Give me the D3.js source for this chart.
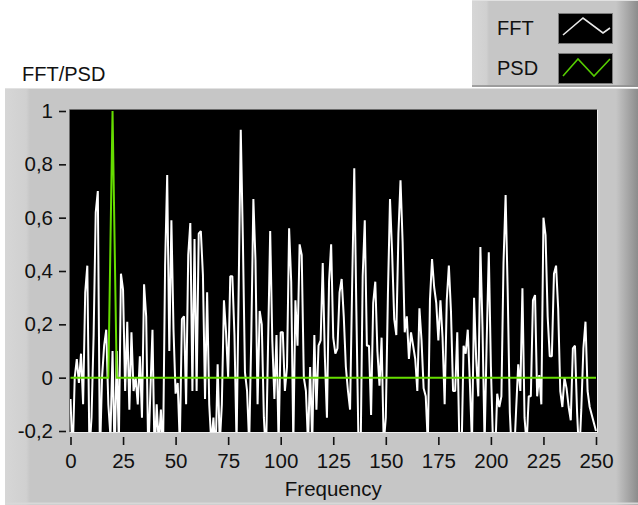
<!DOCTYPE html>
<html>
<head>
<meta charset="utf-8">
<script src="https://cdn.jsdelivr.net/npm/d3@7/dist/d3.min.js"></script>
<style>
  body { margin: 0; background: #ffffff; }
  svg { display: block; }
  text { font-family: "Liberation Sans", Arial, sans-serif; fill: #111; }
</style>
</head>
<body>
<svg id="chart" width="638" height="505"></svg>
<script>
// FFT magnitude, one value per frequency bin (0 .. 250)
const fftValues = [
  -0.08, -0.3, 0.0, 0.07, -0.02, 0.09, -0.1, 0.32, 0.42, -0.28,
  -0.15, 0.16, 0.62, 0.70, -0.3, 0.0, 0.12, 0.18, -0.1, -0.22,
  0.1, -0.3, 0.1, -0.25, 0.39, 0.33, -0.05, 0.21, -0.12, 0.17,
  -0.05, 0.0, -0.1, 0.08, -0.15, 0.35, 0.23, -0.3, -0.05, 0.18,
  -0.3, -0.1, -0.25, -0.12, -0.3, 0.42, 0.76, 0.1, 0.59, 0.18,
  -0.06, -0.02, -0.25, 0.22, 0.23, -0.1, 0.46, 0.58, -0.05, 0.52,
  -0.05, 0.54, 0.55, 0.385, -0.08, 0.32, -0.1, -0.25, -0.15, -0.3,
  0.05, -0.25, -0.1, 0.29, 0.17, 0.0, 0.38, 0.38, 0.16, -0.25,
  0.33, 0.93, 0.52, 0.02, -0.05, -0.25, 0.15, 0.67, 0.44, -0.1,
  0.25, 0.2, -0.15, -0.3, 0.13, 0.55, 0.14, -0.08, 0.16, -0.25,
  0.17, 0.17, -0.05, 0.04, 0.56, 0.36, -0.25, 0.29, 0.12, 0.5,
  0.46, 0.0, -0.05, -0.25, 0.04, -0.25, 0.16, -0.12, 0.12, 0.14,
  0.43, 0.08, -0.15, 0.36, 0.5, 0.15, 0.09, 0.11, 0.32, 0.37,
  0.23, 0.04, -0.05, -0.12, 0.35, 0.785, 0.25, -0.25, -0.3, 0.38,
  0.59, 0.12, 0.12, -0.14, 0.28, 0.36, 0.1, -0.03, 0.15, -0.25,
  -0.15, 0.31, 0.67, 0.47, 0.22, 0.16, 0.54, 0.74, 0.51, 0.17,
  0.23, 0.07, 0.17, 0.12, 0.07, -0.05, 0.26, 0.14, -0.04, -0.07,
  -0.25, 0.29, 0.445, 0.34, 0.28, 0.14, 0.29, 0.15, -0.1, 0.29,
  0.42, 0.25, -0.05, -0.05, 0.17, -0.25, -0.3, 0.12, 0.09, 0.18,
  -0.02, -0.25, 0.3, 0.07, -0.07, 0.49, 0.19, -0.25, 0.14, 0.47,
  0.04, -0.25, -0.3, -0.06, -0.11, -0.07, 0.43, 0.685, 0.32, -0.13,
  -0.3, -0.3, -0.12, 0.05, -0.05, 0.335, -0.15, -0.25, -0.07, -0.07,
  0.29, 0.31, -0.07, 0.01, -0.1, 0.6, 0.535, 0.23, 0.08, 0.08,
  0.39, 0.42, 0.26, -0.05, -0.11, 0.0, -0.04, -0.11, -0.16, 0.11,
  0.12, -0.13, -0.3, -0.12, 0.11, 0.21, -0.05, -0.11, -0.14, -0.17,
  -0.2
];

// Power spectral density: zero everywhere except the peak around bin 20
const psdPeakBins   = [19, 20, 21];
const psdPeakValues = [0.5, 1, 0.5];
const psdValues = fftValues.map(() => 0);
psdPeakBins.forEach((b, k) => { psdValues[b] = psdPeakValues[k]; });

const xTicks = [0, 25, 50, 75, 100, 125, 150, 175, 200, 225, 250];
const yTicks = [-0.2, 0, 0.2, 0.4, 0.6, 0.8, 1];
const seriesNames = ["FFT", "PSD"];
const seriesColors = ["#ffffff", "#66dd00"];

const svg = d3.select("#chart");
const W = 638, H = 505;

// ---- panel chrome ----
const defs = svg.append("defs");
const shade = defs.append("linearGradient").attr("id", "rightShade")
  .attr("x1", 0).attr("x2", 1).attr("y1", 0).attr("y2", 0);
shade.append("stop").attr("offset", 0).attr("stop-color", "#c6c6c6");
shade.append("stop").attr("offset", 1).attr("stop-color", "#8c8c8c");
const leftLight = defs.append("linearGradient").attr("id", "leftLight")
  .attr("x1", 0).attr("x2", 1).attr("y1", 0).attr("y2", 0);
leftLight.append("stop").attr("offset", 0).attr("stop-color", "#d6d6d6");
leftLight.append("stop").attr("offset", 0.85).attr("stop-color", "#d0d0d0");
leftLight.append("stop").attr("offset", 1).attr("stop-color", "#c6c6c6");

function panel(x, y, w, h, lightW) {
  const g = svg.append("g");
  g.append("rect").attr("x", x).attr("y", y).attr("width", w).attr("height", h).attr("fill", "#c6c6c6");
  g.append("rect").attr("x", x).attr("y", y).attr("width", lightW).attr("height", h).attr("fill", "url(#leftLight)");
  g.append("rect").attr("x", W - 22).attr("y", y).attr("width", 22).attr("height", h).attr("fill", "url(#rightShade)");
  g.append("line").attr("x1", x).attr("x2", W).attr("y1", y + 0.5).attr("y2", y + 0.5)
    .attr("stroke", "#e2e2e2");
  return g;
}

// main graph panel
panel(5, 88, W - 5, H - 88, 25);
svg.append("line").attr("x1", 5).attr("x2", W).attr("y1", H - 1.5).attr("y2", H - 1.5)
  .attr("stroke", "#d8d8d8").attr("stroke-width", 2);

// legend panel
panel(472, 0, W - 472, 87, 17);
svg.append("line").attr("x1", 472).attr("x2", W).attr("y1", 86).attr("y2", 86)
  .attr("stroke", "#8e8e8e").attr("stroke-width", 1.5);

// ---- plot area ----
const plot = { left: 70, top: 110, right: 597, bottom: 432 };
const x = d3.scaleLinear().domain([0, 250]).range([70.5, 596]);
const y = d3.scaleLinear().domain([-0.2, 1]).range([431, 111]);

svg.append("rect").attr("x", plot.left).attr("y", plot.top)
  .attr("width", plot.right - plot.left).attr("height", plot.bottom - plot.top)
  .attr("fill", "#000");
// inset border
svg.append("path")
  .attr("d", `M${plot.left - 0.5},${plot.bottom}V${plot.top - 0.5}H${plot.right}`)
  .attr("fill", "none").attr("stroke", "#6a6a6a");
svg.append("path")
  .attr("d", `M${plot.left},${plot.bottom + 0.5}H${plot.right + 0.5}V${plot.top}`)
  .attr("fill", "none").attr("stroke", "#eeeeee");

defs.append("clipPath").attr("id", "plotClip").append("rect")
  .attr("x", plot.left).attr("y", plot.top)
  .attr("width", plot.right - plot.left).attr("height", plot.bottom - plot.top);

const line = d3.line().x((d, i) => x(i)).y(d => y(d));
const plotG = svg.append("g").attr("clip-path", "url(#plotClip)");
plotG.append("path").datum(fftValues).attr("d", line)
  .attr("fill", "none").attr("stroke", seriesColors[0]).attr("stroke-width", 2)
  .attr("stroke-linejoin", "bevel");
plotG.append("path").datum(psdValues).attr("d", line)
  .attr("fill", "none").attr("stroke", seriesColors[1]).attr("stroke-width", 2);

// ---- axes ----
const locale = d3.formatLocale({ decimal: ",", thousands: ".", grouping: [3], currency: ["", ""], minus: "-" });
const yFmt = locale.format("~g");

const yAxis = svg.append("g").attr("transform", "translate(66,0)")
  .call(d3.axisLeft(y).tickValues(yTicks).tickFormat(yFmt).tickSize(7).tickPadding(6));
const xAxis = svg.append("g").attr("transform", "translate(0,437)")
  .call(d3.axisBottom(x).tickValues(xTicks).tickFormat(d => String(d)).tickSize(8).tickPadding(8));
[yAxis, xAxis].forEach(a => {
  a.select(".domain").remove();
  a.selectAll(".tick line").attr("stroke", "#111").attr("stroke-width", 1.6);
  a.selectAll(".tick text").attr("font-size", 20.5).attr("fill", "#111")
    .attr("font-family", "\"Liberation Sans\", Arial, sans-serif");
});

// titles
svg.append("text").attr("x", 22).attr("y", 81).attr("font-size", 20).text("FFT/PSD");
svg.append("text").attr("x", (x(0) + x(250)) / 2).attr("y", 496).attr("text-anchor", "middle")
  .attr("font-size", 20.5).text("Frequency");

// ---- legend ----
const legendRows = [
  { y: 13, glyph: [[563, 35], [583, 18], [603, 33], [610, 28]] },
  { y: 53, glyph: [[563, 76], [578, 59], [594, 76], [610, 59]] }
];
legendRows.forEach((r, i) => {
  svg.append("text").attr("x", 497).attr("y", r.y + 22).attr("font-size", 20).text(seriesNames[i]);
  svg.append("rect").attr("x", 558.5).attr("y", r.y + 0.5).attr("width", 54).attr("height", 30)
    .attr("fill", "#000").attr("stroke", "#7a7a7a");
  svg.append("path").attr("d", d3.line()(r.glyph))
    .attr("fill", "none").attr("stroke", i === 0 ? "#e8e8e8" : "#55cc00").attr("stroke-width", 1.6);
});
</script>
</body>
</html>
